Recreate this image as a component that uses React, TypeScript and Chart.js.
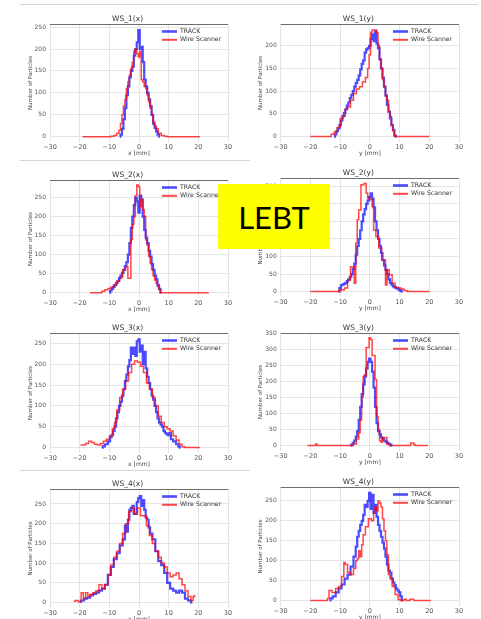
import React, { useEffect, useRef } from "react";
import { Chart, registerables } from "chart.js";

Chart.register(...registerables);

type Pt = [number, number];

const FONT = "'DejaVu Sans', 'Liberation Sans', sans-serif";

const X_TICKS = [-30, -20, -10, 0, 10, 20, 30];
const Y_TICKS_200 = [0, 50, 100, 150, 200];
const Y_TICKS_250 = [0, 50, 100, 150, 200, 250];
const Y_TICKS_300 = [0, 50, 100, 150, 200, 250, 300];
const Y_TICKS_350 = [0, 50, 100, 150, 200, 250, 300, 350];

const TITLES = ["WS_1(x)", "WS_1(y)", "WS_2(x)", "WS_2(y)", "WS_3(x)", "WS_3(y)", "WS_4(x)", "WS_4(y)"];
const X_LABELS = ["x [mm]", "y [mm]"];
const Y_LABEL = "Number of Particles";
const SERIES_NAMES = ["TRACK", "Wire Scanner"];
const BANNER = "LEBT";

// ---- WS_1(x)
const WS1X_TRACK: Pt[] = [[-6.5,0],[-6,5],[-5.5,18],[-5,40],[-4.5,65],[-4,95],[-3.5,115],[-3,135],[-2.5,150],[-2,160],[-1.5,185],[-1,200],[-0.5,215],[0,243],[0.5,200],[1,205],[1.5,170],[2,130],[2.5,115],[3,100],[3.5,85],[4,70],[4.5,50],[5,30],[5.5,20],[6,12],[6.5,5],[7,0]];
const WS1X_WIRE: Pt[] = [[-19,0],[-10,0],[-9,1],[-8,3],[-7,8],[-6.5,15],[-6,30],[-5.5,50],[-5,70],[-4.5,85],[-4,110],[-3.5,125],[-3,140],[-2.5,155],[-2,170],[-1.5,195],[-1,200],[-0.5,190],[0,182],[0.5,195],[1,130],[1.5,125],[2,115],[2.5,110],[3,95],[3.5,80],[4,65],[4.5,50],[5,35],[5.5,25],[6,18],[7,8],[8,3],[9,1],[10,0],[20.5,0]];
// ---- WS_1(y)
const WS1Y_TRACK: Pt[] = [[-12,0],[-11.5,5],[-11,12],[-10.5,18],[-10,25],[-9.5,35],[-9,45],[-8.5,52],[-8,60],[-7.5,68],[-7,75],[-6.5,85],[-6,92],[-5.5,100],[-5,110],[-4.5,118],[-4,125],[-3.5,135],[-3,148],[-2.5,160],[-2,168],[-1.5,185],[-1,192],[-0.5,195],[0,200],[0.5,215],[1,225],[1.5,210],[2,232],[2.5,205],[3,195],[3.5,170],[4,150],[4.5,130],[5,110],[5.5,90],[6,70],[6.5,55],[7,40],[7.5,25],[8,15],[8.5,2],[9,0]];
const WS1Y_WIRE: Pt[] = [[-20,0],[-13.5,0],[-12.5,5],[-11.5,10],[-10.5,20],[-9.5,40],[-8.5,45],[-8,60],[-7,65],[-6,80],[-5,95],[-4,105],[-3,110],[-2,120],[-1,130],[-0.5,150],[0,180],[0.5,230],[1,235],[2,235],[2.5,228],[3,200],[3.5,170],[4,150],[4.5,125],[5,110],[5.5,90],[6,80],[6.5,55],[7,45],[7.5,25],[8,12],[8.5,2],[9,0],[20,0]];
// ---- WS_2(x)
const WS2X_TRACK: Pt[] = [[-10,0],[-9.5,5],[-9,10],[-8.5,15],[-8,20],[-7.5,25],[-7,30],[-6.5,38],[-6,45],[-5.5,52],[-5,60],[-4.5,70],[-4,80],[-3.5,100],[-3,130],[-2.5,170],[-2,200],[-1.5,230],[-1,250],[-0.5,240],[0,210],[0.5,255],[1,245],[1.5,200],[2,165],[2.5,145],[3,130],[3.5,110],[4,95],[4.5,75],[5,60],[5.5,45],[6,35],[6.5,20],[7,10],[7.5,0]];
const WS2X_WIRE: Pt[] = [[-16.5,0],[-13,0],[-12,4],[-11,8],[-10,11],[-9,15],[-8,20],[-7,30],[-6,40],[-5,60],[-4,68],[-3.5,38],[-3,38],[-2.5,140],[-2,180],[-1.5,200],[-1,255],[-0.5,283],[0,279],[0.5,226],[1,244],[1.5,218],[2,200],[2.5,139],[3,125],[3.5,95],[4,78],[4.5,60],[5,45],[5.5,33],[6,25],[6.5,16],[7,8],[7.5,0],[23.5,0]];
// ---- WS_2(y)
const WS2Y_TRACK: Pt[] = [[-10.5,0],[-10,10],[-9.5,18],[-9,20],[-8.5,22],[-8,25],[-7.5,30],[-7,35],[-6.5,42],[-6,50],[-5.5,65],[-5,80],[-4.5,105],[-4,130],[-3.5,150],[-3,175],[-2.5,200],[-2,220],[-1.5,235],[-1,250],[-0.5,260],[0,270],[0.5,280],[1,265],[1.5,240],[2,200],[2.5,175],[3,150],[3.5,130],[4,110],[4.5,90],[5,75],[5.5,62],[6,50],[6.5,35],[7,25],[7.5,20],[8,15],[8.5,12],[9,10],[9.5,8],[10,5],[10.5,2],[11,0]];
const WS2Y_WIRE: Pt[] = [[-20,0],[-11,0],[-10,3],[-9,5],[-8,10],[-7,33],[-6,71],[-5.5,71],[-5,24],[-4.5,138],[-4,205],[-3.5,233],[-2.5,305],[-1.5,308],[-1,281],[-0.5,267],[0.5,262],[1,243],[1.5,176],[2.5,157],[3.5,124],[4.5,90],[5,90],[5.5,19],[6,62],[7,48],[8,24],[9,12],[10,10],[11,7],[12,3],[13,0],[20,0]];
// ---- WS_3(x)
const WS3X_TRACK: Pt[] = [[-12.5,0],[-12,3],[-11,8],[-10,15],[-9.5,25],[-9,30],[-8.5,40],[-8,50],[-7.5,70],[-7,85],[-6.5,100],[-6,110],[-5.5,125],[-5,140],[-4.5,160],[-4,175],[-3.5,195],[-3,210],[-2.5,240],[-2,225],[-1.5,240],[-1,220],[-0.5,255],[0,260],[0.5,230],[1,245],[1.5,200],[2,230],[2.5,190],[3,170],[3.5,155],[4,140],[4.5,125],[5,115],[5.5,100],[6,85],[6.5,70],[7,60],[7.5,55],[8,50],[8.5,40],[9,35],[9.5,32],[10,30],[10.5,35],[11,20],[12,15],[13,8],[13.5,3],[14,0]];
const WS3X_WIRE: Pt[] = [[-19.7,6],[-18.5,6],[-17.5,10],[-16.5,15],[-15.5,12],[-14.5,8],[-13.5,6],[-12.5,10],[-11.5,15],[-10.5,20],[-9.5,28],[-8.5,45],[-8,60],[-7,90],[-6,120],[-5,140],[-4,160],[-3,180],[-2,200],[-1,208],[0,205],[1,195],[2,180],[3,155],[4,140],[5,120],[6,100],[7,75],[8,60],[9,50],[10,45],[11,40],[12,28],[13,18],[14,8],[15,2],[16,0],[20.5,0]];
// ---- WS_3(y)
const WS3Y_TRACK: Pt[] = [[-6.5,0],[-6,3],[-5.5,8],[-5,15],[-4.5,28],[-4,45],[-3.5,80],[-3,120],[-2.5,160],[-2,190],[-1.5,215],[-1,240],[-0.5,260],[0,270],[0.5,260],[1,230],[1.5,180],[2,120],[2.5,70],[3,45],[3.5,35],[4,25],[4.5,20],[5,15],[5.5,12],[6,8],[6.5,5],[7,3],[7.5,0]];
const WS3Y_WIRE: Pt[] = [[-21,0],[-18.5,0],[-18,5],[-17.5,0],[-6,0],[-5,5],[-4,20],[-3.5,40],[-3,80],[-2.5,150],[-2,215],[-1.5,220],[-1,305],[-0.5,305],[0,335],[0.5,330],[1,280],[1.5,280],[2,205],[2.5,90],[3,50],[3.5,15],[4,10],[4.5,25],[5.5,25],[6,5],[7,0],[13.5,0],[14,8],[14.5,8],[15,3],[15.5,0],[19.5,0]];
// ---- WS_4(x)
const WS4X_TRACK: Pt[] = [[-20,2],[-19,5],[-18,10],[-17,12],[-16,18],[-15,22],[-14,25],[-13,30],[-12,35],[-11,45],[-10,70],[-9,90],[-8,110],[-7,125],[-6,145],[-5,160],[-4.5,195],[-4,180],[-3.5,210],[-3,235],[-2.5,240],[-2,245],[-1.5,225],[-1,225],[-0.5,255],[0,265],[0.5,270],[1,245],[1.5,260],[2,235],[2.5,215],[3,210],[3.5,190],[4,175],[5,160],[6,130],[7,105],[8,95],[9,75],[10,50],[11,35],[12,30],[13,25],[14,30],[15,25],[16,10],[17,5],[18,0]];
const WS4X_WIRE: Pt[] = [[-22,3],[-21,5],[-20,2],[-19,25],[-18.5,10],[-17.5,25],[-17,15],[-16,20],[-15,25],[-14,30],[-13,45],[-12,35],[-11,45],[-10,70],[-9,95],[-8,115],[-7,130],[-6,150],[-5,175],[-4,200],[-3,230],[-2,240],[-1,225],[0,240],[1,220],[2,220],[3,195],[4,170],[5,150],[6,130],[7,115],[8,100],[9,90],[10,75],[11,65],[12,70],[13,75],[14,60],[15,45],[16,30],[17,15],[18,5],[18.5,15],[19,18]];
// ---- WS_4(y)
const WS4Y_TRACK: Pt[] = [[-13.5,0],[-13,5],[-12,10],[-11,20],[-10,30],[-9,40],[-8,55],[-7,65],[-6,85],[-5,110],[-4.5,135],[-4,160],[-3.5,175],[-3,190],[-2.5,200],[-2,215],[-1.5,240],[-1,235],[-0.5,250],[0,270],[0.5,230],[1,265],[1.5,220],[2,240],[2.5,210],[3,190],[3.5,175],[4,160],[4.5,145],[5,130],[5.5,110],[6,90],[6.5,75],[7,70],[7.5,55],[8,45],[8.5,38],[9,30],[9.5,25],[10,20],[10.5,10],[11,0]];
const WS4Y_WIRE: Pt[] = [[-20,0],[-14.5,0],[-14,5],[-13.5,25],[-12,20],[-11,30],[-10,35],[-9,60],[-8.5,95],[-8,90],[-7,70],[-6,65],[-5,80],[-4.5,100],[-4,105],[-3.5,125],[-3,110],[-2.5,140],[-2,165],[-1,185],[0,205],[1,200],[1.5,220],[2,235],[2.5,225],[3,250],[3.5,245],[4,235],[4.5,205],[5,175],[5.5,150],[6,115],[6.5,65],[7,55],[8,35],[9,15],[10,2],[11,0],[12,3],[12.5,0],[14.5,3],[15,0],[20.5,0]];

type PanelCfg = {
  title: string; xLabel: string; track: Pt[]; wire: Pt[];
  yMin: number; yMax: number; yTicks: number[];
  col: number; top: number; bottom: number;
};

const PANELS: PanelCfg[] = [
  { title: TITLES[0], xLabel: X_LABELS[0], track: WS1X_TRACK, wire: WS1X_WIRE, yMin: -12, yMax: 257, yTicks: Y_TICKS_250, col: 0, top: 24, bottom: 142 },
  { title: TITLES[1], xLabel: X_LABELS[1], track: WS1Y_TRACK, wire: WS1Y_WIRE, yMin: -12, yMax: 248, yTicks: Y_TICKS_200, col: 1, top: 24, bottom: 142 },
  { title: TITLES[2], xLabel: X_LABELS[0], track: WS2X_TRACK, wire: WS2X_WIRE, yMin: -14, yMax: 296, yTicks: Y_TICKS_250, col: 0, top: 180, bottom: 298 },
  { title: TITLES[3], xLabel: X_LABELS[1], track: WS2Y_TRACK, wire: WS2Y_WIRE, yMin: -15.5, yMax: 324, yTicks: Y_TICKS_300, col: 1, top: 178, bottom: 297 },
  { title: TITLES[4], xLabel: X_LABELS[0], track: WS3X_TRACK, wire: WS3X_WIRE, yMin: -13, yMax: 275, yTicks: Y_TICKS_250, col: 0, top: 333, bottom: 453 },
  { title: TITLES[5], xLabel: X_LABELS[1], track: WS3Y_TRACK, wire: WS3Y_WIRE, yMin: -17, yMax: 350, yTicks: Y_TICKS_350, col: 1, top: 333, bottom: 451 },
  { title: TITLES[6], xLabel: X_LABELS[0], track: WS4X_TRACK, wire: WS4X_WIRE, yMin: -14, yMax: 288, yTicks: Y_TICKS_250, col: 0, top: 489, bottom: 608 },
  { title: TITLES[7], xLabel: X_LABELS[1], track: WS4Y_TRACK, wire: WS4Y_WIRE, yMin: -14, yMax: 285, yTicks: Y_TICKS_250, col: 1, top: 487, bottom: 606 },
];

const COLS = [
  { left: 0, width: 240, plotL: 50, plotR: 228, yTitleX: 30.5 },
  { left: 240, width: 241, plotL: 280.7, plotR: 459, yTitleX: 261 },
];

const fmt = (v: number) => (v < 0 ? "\u2212" + Math.abs(v) : String(v));

const decorPlugin = {
  id: "decor",
  afterDraw(chart: any) {
    const { ctx, chartArea } = chart;
    const { left, right, top } = chartArea;
    ctx.save();
    ctx.strokeStyle = "#6e6e6e";
    ctx.lineWidth = 1;
    ctx.beginPath();
    ctx.moveTo(left, top + 0.5);
    ctx.lineTo(right, top + 0.5);
    ctx.stroke();
    const ds = chart.data.datasets;
    const items = [ds[1], ds[0]];
    ctx.font = `6.2px ${FONT}`;
    ctx.textBaseline = "middle";
    ctx.textAlign = "left";
    items.forEach((it: any, i: number) => {
      const y = top + 7.5 + i * 8.3;
      ctx.strokeStyle = it.borderColor;
      ctx.lineWidth = it.legendWidth;
      ctx.beginPath();
      ctx.moveTo(right - 66, y);
      ctx.lineTo(right - 51, y);
      ctx.stroke();
      ctx.fillStyle = "#333";
      ctx.fillText(it.label, right - 48, y);
    });
    ctx.restore();
  },
};

function Panel({ cfg }: { cfg: PanelCfg }) {
  const ref = useRef<HTMLCanvasElement>(null);
  const col = COLS[cfg.col];
  const canvasTop = cfg.top - 20;
  const canvasH = cfg.bottom - cfg.top + 37;
  useEffect(() => {
    if (!ref.current) return;
    const yTitleFont = 5.5;
    const padL = col.yTitleX - col.left - (yTitleFont * 1.2) / 2;
    const yAxisW = col.plotL - col.left - padL;
    const padR = col.left + col.width - col.plotR;
    const chart = new Chart(ref.current, {
      type: "line",
      data: {
        datasets: [
          {
            label: SERIES_NAMES[1],
            data: cfg.wire.map(([x, y]) => ({ x, y })),
            borderColor: "rgba(255,0,0,0.72)",
            borderWidth: 1.5,
            stepped: "middle",
            pointRadius: 0,
            fill: false,
            order: 0,
            legendWidth: 2,
          } as any,
          {
            label: SERIES_NAMES[0],
            data: cfg.track.map(([x, y]) => ({ x, y })),
            borderColor: "rgba(0,0,255,0.7)",
            borderWidth: 2.2,
            stepped: "middle",
            pointRadius: 0,
            fill: false,
            order: 1,
            legendWidth: 2.6,
          } as any,
        ],
      },
      options: {
        animation: false,
        responsive: false,
        maintainAspectRatio: false,
        devicePixelRatio: 1,
        events: [],
        layout: { padding: { left: padL, right: padR, top: 11, bottom: 2 } },
        plugins: {
          legend: { display: false },
          tooltip: { enabled: false },
          title: {
            display: true,
            text: cfg.title,
            color: "#333",
            font: { family: FONT, size: 7.5, weight: "normal" },
            padding: 0,
          },
        },
        scales: {
          x: {
            type: "linear",
            min: -30,
            max: 30,
            afterBuildTicks: (s: any) => {
              s.ticks = X_TICKS.map((v) => ({ value: v }));
            },
            afterFit: (s: any) => {
              s.height = 15;
            },
            grid: { color: "#e4e4e4", drawTicks: false, lineWidth: 1 },
            border: { display: false },
            ticks: {
              padding: 1,
              color: "#555",
              font: { family: FONT, size: 6.5 },
              maxRotation: 0,
              autoSkip: false,
              callback: (v: any) => fmt(Number(v)),
            },
            title: {
              display: true,
              text: cfg.xLabel,
              color: "#444",
              font: { family: FONT, size: 6 },
              padding: 0,
            },
          },
          y: {
            type: "linear",
            min: cfg.yMin,
            max: cfg.yMax,
            afterBuildTicks: (s: any) => {
              s.ticks = cfg.yTicks.map((v) => ({ value: v }));
            },
            afterFit: (s: any) => {
              s.width = yAxisW;
            },
            grid: { color: "#e4e4e4", drawTicks: false, lineWidth: 1 },
            border: { display: false },
            ticks: {
              padding: 4,
              color: "#555",
              font: { family: FONT, size: 6 },
              autoSkip: false,
              callback: (v: any) => fmt(Number(v)),
            },
            title: {
              display: true,
              text: Y_LABEL,
              color: "#444",
              font: { family: FONT, size: yTitleFont },
              padding: 0,
            },
          },
        },
      } as any,
      plugins: [decorPlugin],
    });
    return () => chart.destroy();
  }, []);
  return (
    <canvas
      ref={ref}
      width={col.width}
      height={canvasH}
      style={{ position: "absolute", left: col.left, top: canvasTop, width: col.width, height: canvasH }}
    />
  );
}

const SEPARATORS = [
  { left: 20, top: 4, width: 458 },
  { left: 20, top: 160, width: 230 },
  { left: 20, top: 470, width: 230 },
];

export default function App() {
  return (
    <div
      style={{
        position: "absolute",
        left: 0,
        top: 0,
        width: 481,
        height: 619,
        overflow: "hidden",
        background: "#fff",
      }}
    >
      {SEPARATORS.map((s, i) => (
        <div
          key={"s" + i}
          style={{ position: "absolute", left: s.left, top: s.top, width: s.width, height: 1, background: "#d6d6d6" }}
        />
      ))}
      {PANELS.map((p, i) => (
        <Panel key={i} cfg={p} />
      ))}
      <div
        style={{
          position: "absolute",
          left: 218,
          top: 184,
          width: 112,
          height: 65,
          background: "#ffff00",
          display: "flex",
          alignItems: "center",
          justifyContent: "center",
          fontFamily: "Lato, 'Liberation Sans', sans-serif",
          fontSize: 31,
          color: "#000",
          zIndex: 5,
        }}
      >
        {BANNER}
      </div>
    </div>
  );
}
